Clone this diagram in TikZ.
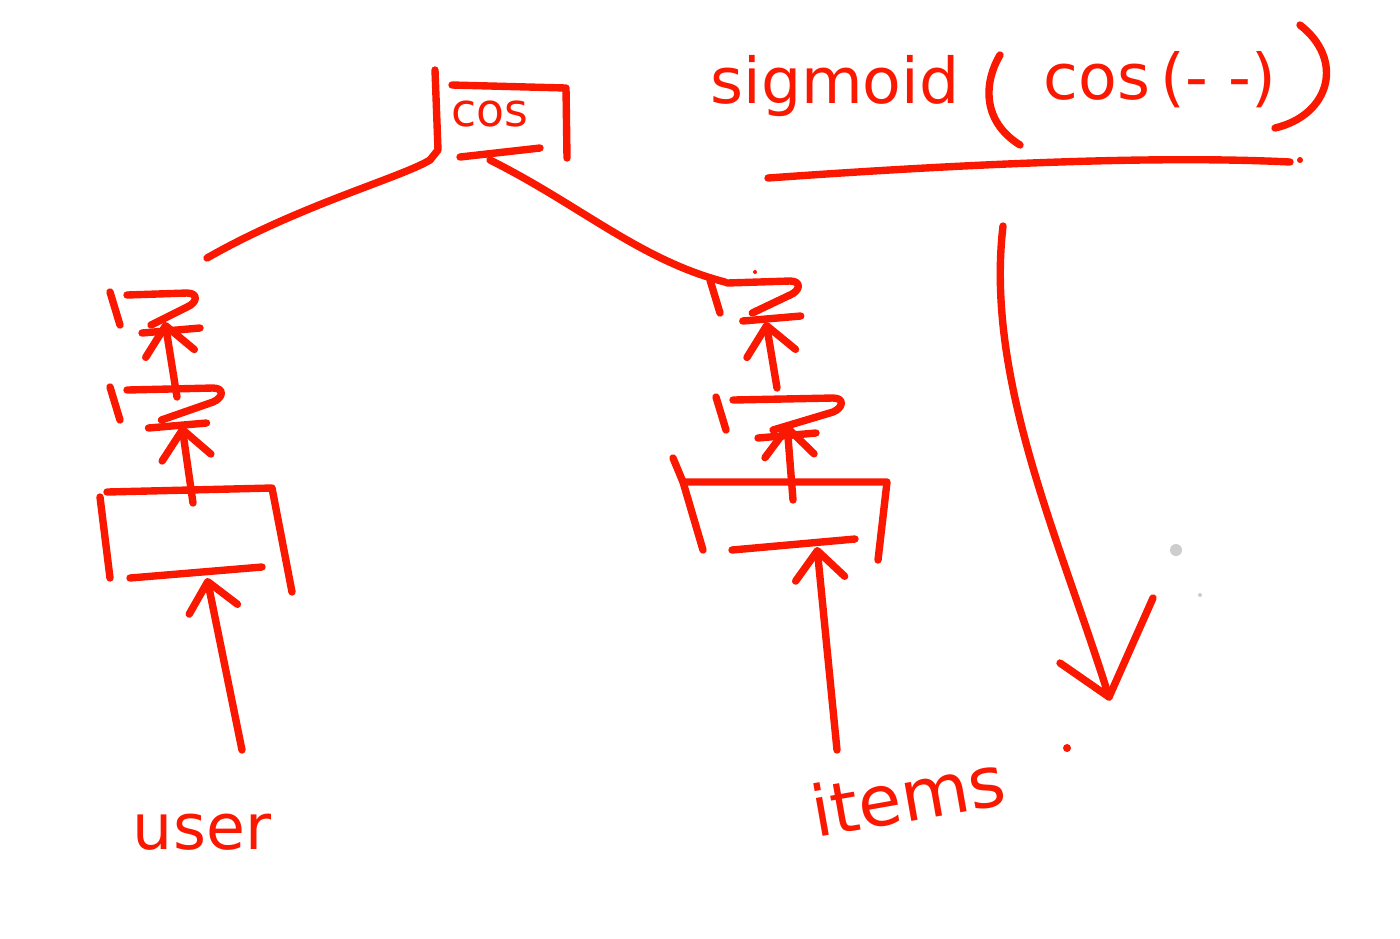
\documentclass[tikz,border=0pt]{standalone}
\usepackage{fontspec}
\setmainfont{DejaVu Sans}
\usetikzlibrary{arrows.meta}
\definecolor{ink}{RGB}{250,24,0}
\definecolor{dotgray}{RGB}{205,205,205}
\tikzset{
  pen/.style={draw=ink, line width=2.1pt, line cap=round, line join=round},
  upar/.style={pen, -{Straight Barb[length=8pt,width=14pt,round]}},
  hand/.style={text=ink, inner sep=0pt},
}
\newcommand{\layerglyph}[2]{%
  \begin{scope}[shift={(#1)}]
    \draw[pen] (-17,-3) -- (-7,30);
    \draw[pen] (0,0) -- (#2,-2) .. controls ({#2+12},-2) and ({#2+10},8) .. (#2,12) -- ({0.4*#2},30);
    \draw[pen] ({0.25*#2},38) -- ({0.25*#2+58},33);
  \end{scope}}
\begin{document}
\begin{tikzpicture}[x=0.01cm,y=-0.01cm]
\useasboundingbox (0,0) rectangle (1400,938);
\fill[white] (0,0) rectangle (1400,938);

% ---------- cos box ----------
\node[hand, font=\fontsize{13}{13}\selectfont] (cos) at (490,114) {cos};
\draw[pen] (435,70) -- (438,150) -- (430,160);
\draw[pen] (452,85) -- (566,88) -- (567,158);
\draw[pen] (460,157) -- (540,148);
\coordinate (cosL) at (430,160);
\coordinate (cosR) at (490,160);

% ---------- tower top ends ----------
\coordinate (towerL) at (207,258);
\coordinate (towerR) at (725,282);
\draw[pen] (cosL) .. controls (400,178) and (300,205) .. (towerL);
\draw[pen] (cosR) .. controls (580,205) and (640,260) .. (towerR);

% ---------- left tower ----------
\layerglyph{127,295}{60}
\layerglyph{127,390}{86}
% embedding box
\draw[pen] (107,492) -- (272,488) -- (292,592);
\draw[pen] (100,497) -- (110,578);
\draw[pen] (130,578) -- (262,567);
\coordinate (boxLtop) at (193,503);
\coordinate (l2Lbot) at (177,397);
\coordinate (l2Ltip) at (182,426);
\coordinate (l1Ltip) at (165,322);
\coordinate (inL) at (242,750);
\coordinate (boxLbot) at (207,578);
\draw[upar] (boxLtop) -- (l2Ltip);
\draw[upar] (l2Lbot) -- (l1Ltip);
\draw[upar] (inL) -- (boxLbot);
\node[hand, font=\fontsize{18}{18}\selectfont] (user) at (202,832) {user};

% ---------- right tower ----------
\layerglyph{727,283}{63}
\layerglyph{733,400}{100}
\draw[pen] (683,482) -- (887,482) -- (878,560);
\draw[pen] (673,458) -- (683,482) -- (703,550);
\draw[pen] (732,550) -- (855,539);
\coordinate (boxRtop) at (793,500);
\coordinate (l2Rbot) at (777,388);
\coordinate (l2Rtip) at (787,424);
\coordinate (l1Rtip) at (766,322);
\coordinate (inR) at (837,750);
\coordinate (boxRbot) at (817,547);
\draw[upar] (boxRtop) -- (l2Rtip);
\draw[upar] (l2Rbot) -- (l1Rtip);
\draw[upar] (inR) -- (boxRbot);
\node[hand, font=\fontsize{20}{20}\selectfont, rotate=10] (items) at (908,795) {items};

% ---------- sigmoid(cos(...)) ----------
\node[hand, font=\fontsize{18}{18}\selectfont] (sig) at (835,86) {sigmoid};
\draw[pen] (1000,55) .. controls (985,80) and (980,120) .. (1020,145);
\node[hand, font=\fontsize{18}{18}\selectfont] (arg) at (1160,80) {cos\,(- -)};
\draw[pen] (1300,25) .. controls (1345,60) and (1330,115) .. (1275,128);
\coordinate (ulA) at (768,178);
\coordinate (ulB) at (1290,162);
\draw[pen] (ulA) .. controls (950,165) and (1150,155) .. (ulB);

% ---------- big down arrow ----------
\coordinate (dnTop) at (1003,226);
\coordinate (dnTip) at (1109,697);
\draw[pen] (dnTop) .. controls (985,380) and (1060,540) .. (dnTip);
\draw[pen] (1060,663) -- (dnTip) -- (1153,598);

% ---------- small marks ----------
\fill[ink] (1300,160) circle (3);
\fill[ink] (1067,748) circle (4);
\fill[ink] (755,272) circle (2);
\fill[dotgray] (1176,550) circle (6);
\fill[dotgray] (1200,595) circle (2);
\end{tikzpicture}
\end{document}
